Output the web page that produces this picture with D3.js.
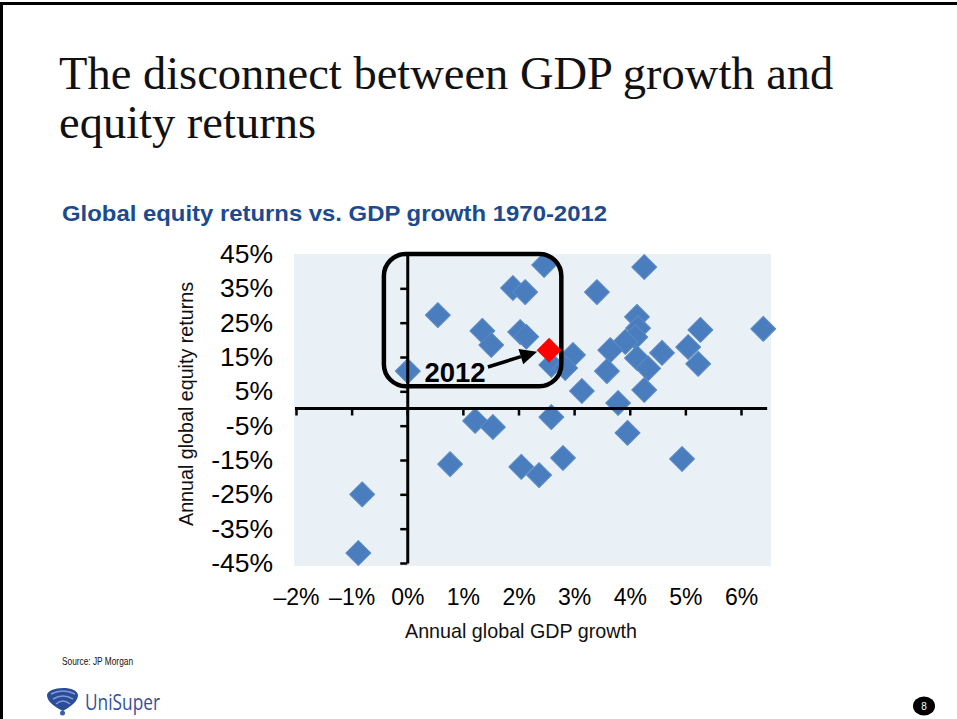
<!DOCTYPE html>
<html>
<head>
<meta charset="utf-8">
<script src="https://cdn.jsdelivr.net/npm/d3@7"></script>
<style>
  body { margin: 0; background: #fff; }
  svg { display: block; }
</style>
</head>
<body>
<div id="chart"></div>
<script>
// Valores (1970-2011), em %
const gdpGrowth = [-0.88, -0.81, 0.77, 1.22, 1.54, 0.01, 0.55, 1.35, 1.51, 1.90,
                   2.12, 2.03, 2.14, 2.46, 2.05, 2.37, 2.80, 2.59, 2.59, 2.98,
                   2.84, 3.14, 3.41, 4.26, 4.13, 4.15, 4.10, 3.92, 3.65, 3.59,
                   3.79, 4.13, 4.33, 4.26, 4.58, 3.96, 5.05, 5.27, 5.23, 4.94,
                   6.40];
const equityReturns = [-42.1, -25.0, -16.2, -3.6, -5.4, 10.9, 27.2, 22.6, 18.5, 35.1,
                       33.9, 22.3, 20.9, 41.8, -17.0, -19.4, -14.4, -2.5, 12.7, 15.6,
                       11.8, 5.1, 33.9, 41.2, 26.7, 23.4, 20.8, 19.4, 17.0, 10.9,
                       1.6, 14.7, 11.7, 5.4, 16.2, -7.1, 17.9, 22.9, 13.0, -14.7,
                       23.2];
// 2012 em destaque
const highlightGdp = [2.55];
const highlightReturn = [17.0];
const highlightLabel = ["2012"];

const xTicks = [-2, -1, 0, 1, 2, 3, 4, 5, 6];
const yTicks = [45, 35, 25, 15, 5, -5, -15, -25, -35, -45];

// Tamanho da página
const width = 957;
const height = 719;

// Área do gráfico (fundo)
const plot = { left: 294, right: 771, top: 254, bottom: 566 };

const svg = d3.select("#chart")
    .append("svg")
    .attr("width", width)
    .attr("height", height);

// Borda do slide
svg.append("line").attr("x1", 0).attr("x2", width).attr("y1", 3.5).attr("y2", 3.5)
    .attr("stroke", "#000").attr("stroke-width", 3);
svg.append("line").attr("x1", 1.5).attr("x2", 1.5).attr("y1", 2).attr("y2", height)
    .attr("stroke", "#000").attr("stroke-width", 3);

// Título
const title = svg.append("text")
    .attr("x", 60)
    .attr("font-family", "'Liberation Serif', 'Times New Roman', serif")
    .attr("font-size", 46.5)
    .attr("fill", "#111");
title.append("tspan").attr("x", 59).attr("y", 89).text("The disconnect between GDP growth and");
title.append("tspan").attr("x", 59).attr("y", 138).text("equity returns");

// Subtítulo
svg.append("text")
    .attr("x", 62)
    .attr("y", 221)
    .attr("font-family", "'Liberation Sans', Arial, sans-serif")
    .attr("font-weight", "bold")
    .attr("font-size", 22.5)
    .attr("textLength", 545)
    .attr("lengthAdjust", "spacingAndGlyphs")
    .attr("fill", "#1b4a8f")
    .text("Global equity returns vs. GDP growth 1970-2012");

// Escalas
const xScale = d3.scaleLinear().domain([-2, 6]).range([296, 741]);
const yScale = d3.scaleLinear().domain([-45, 45]).range([563, 254]);

// Fundo
svg.append("rect")
    .attr("x", plot.left)
    .attr("y", plot.top)
    .attr("width", plot.right - plot.left)
    .attr("height", plot.bottom - plot.top)
    .attr("fill", "#eaf1f6");

// Pontos (1970-2011)
const points = gdpGrowth.map((g, i) => ({ g: g, r: equityReturns[i] }));

const diamond = d3.symbol().type(d3.symbolSquare).size(310);

svg.append("g")
    .selectAll("path")
    .data(points)
    .enter()
    .append("path")
    .attr("d", diamond)
    .attr("transform", d => `translate(${xScale(d.g)},${yScale(d.r)}) rotate(45)`)
    .attr("fill", "#4a7dbd")
    .attr("stroke", "#5a8ac6")
    .attr("stroke-width", 1)
    .attr("stroke-linejoin", "round");

// Eixo X (linha em 0%)
const xAxisEnd = 6.47;
svg.append("g")
    .attr("transform", `translate(0,${yScale(0)})`)
    .call(d3.axisBottom(xScale).tickValues(xTicks).tickSize(7).tickSizeOuter(0).tickFormat(""))
    .call(g => g.select(".domain").remove())
    .call(g => g.selectAll(".tick line").attr("stroke", "#000").attr("stroke-width", 2.5));
svg.append("line")
    .attr("x1", xScale(-2) - 1)
    .attr("x2", xScale(xAxisEnd))
    .attr("y1", yScale(0))
    .attr("y2", yScale(0))
    .attr("stroke", "#000")
    .attr("stroke-width", 3);

// Eixo Y (linha em 0%)
svg.append("g")
    .attr("transform", `translate(${xScale(0)},0)`)
    .call(d3.axisLeft(yScale).tickValues(yTicks).tickSize(7).tickSizeOuter(0).tickFormat(""))
    .call(g => g.select(".domain").attr("stroke", "#000").attr("stroke-width", 3))
    .call(g => g.selectAll(".tick line").attr("stroke", "#000").attr("stroke-width", 2.5));

// Rótulos do eixo Y
svg.append("g")
    .attr("transform", "translate(273,0)")
    .call(d3.axisLeft(yScale).tickValues(yTicks).tickSize(0).tickPadding(0).tickFormat(d => d + "%"))
    .call(g => g.select(".domain").remove())
    .call(g => g.selectAll("text")
        .attr("font-family", "'Liberation Sans', Arial, sans-serif")
        .attr("font-size", 26.5)
        .attr("fill", "#000"));

// Rótulos do eixo X (traço largo nos negativos)
svg.append("g")
    .attr("transform", "translate(0,589)")
    .call(d3.axisBottom(xScale).tickValues(xTicks).tickSize(0).tickPadding(0)
        .tickFormat(d => (d < 0 ? "\u2013" + Math.abs(d) : d) + "%"))
    .call(g => g.select(".domain").remove())
    .call(g => g.selectAll("text")
        .attr("font-family", "'Liberation Sans', Arial, sans-serif")
        .attr("font-size", 23)
        .attr("fill", "#000"));

// Títulos dos eixos
svg.append("text")
    .attr("x", 521)
    .attr("y", 638)
    .attr("text-anchor", "middle")
    .attr("font-family", "'Liberation Sans', Arial, sans-serif")
    .attr("font-size", 21)
    .attr("textLength", 232)
    .attr("lengthAdjust", "spacingAndGlyphs")
    .attr("fill", "#111")
    .text("Annual global GDP growth");

svg.append("text")
    .attr("transform", "translate(193,404) rotate(-90)")
    .attr("text-anchor", "middle")
    .attr("font-family", "'Liberation Sans', Arial, sans-serif")
    .attr("font-size", 21)
    .attr("textLength", 244)
    .attr("lengthAdjust", "spacingAndGlyphs")
    .attr("fill", "#111")
    .text("Annual global equity returns");

// Caixa arredondada de destaque
const box = { x0: -0.42, x1: 2.77, y0: 6.5, y1: 45 };
svg.append("rect")
    .attr("x", xScale(box.x0))
    .attr("y", yScale(box.y1))
    .attr("width", xScale(box.x1) - xScale(box.x0))
    .attr("height", yScale(box.y0) - yScale(box.y1))
    .attr("rx", 22)
    .attr("fill", "none")
    .attr("stroke", "#000")
    .attr("stroke-width", 4.5);

// Ponto 2012 e seta
const hx = xScale(highlightGdp[0]);
const hy = yScale(highlightReturn[0]);

svg.append("g")
    .selectAll("path")
    .data(highlightGdp)
    .enter()
    .append("path")
    .attr("d", diamond)
    .attr("transform", (d, i) => `translate(${xScale(d)},${yScale(highlightReturn[i])}) rotate(45)`)
    .attr("fill", "#ff0000");

svg.append("text")
    .attr("x", xScale(0.31))
    .attr("y", yScale(7.7))
    .attr("font-family", "'Liberation Sans', Arial, sans-serif")
    .attr("font-weight", "bold")
    .attr("font-size", 27.5)
    .attr("fill", "#000")
    .text(highlightLabel[0]);

const ax0 = xScale(1.45), ay0 = yScale(12.1);
const tipX = hx - 12, tipY = hy + 1.5;
const len = Math.hypot(tipX - ax0, tipY - ay0);
const ux = (tipX - ax0) / len, uy = (tipY - ay0) / len;
const headLen = 17, headW = 8;
const bx = tipX - ux * headLen, by = tipY - uy * headLen;

svg.append("line")
    .attr("x1", ax0).attr("y1", ay0)
    .attr("x2", bx).attr("y2", by)
    .attr("stroke", "#000")
    .attr("stroke-width", 3.5);
svg.append("path")
    .attr("d", `M${tipX},${tipY}L${bx - uy * headW},${by + ux * headW}L${bx + uy * headW},${by - ux * headW}Z`)
    .attr("fill", "#000");

// Fonte
svg.append("text")
    .attr("x", 62)
    .attr("y", 665)
    .attr("font-family", "'Liberation Sans', Arial, sans-serif")
    .attr("font-size", 10.5)
    .attr("textLength", 71)
    .attr("lengthAdjust", "spacingAndGlyphs")
    .attr("fill", "#111")
    .text("Source: JP Morgan");

// Logotipo
const logo = svg.append("g");
logo.append("path")
    .attr("d", "M47,696 C46,686 79,685 78,696 C77,703 68,708 63,711 C57,708 48,703 47,696 Z")
    .attr("fill", "#2b4c98");
[[51, 694, 75], [53, 699, 73], [56, 704, 70]].forEach(a => {
    logo.append("path")
        .attr("d", `M${a[0]},${a[1]} Q63,${a[1] - 6} ${a[2]},${a[1]}`)
        .attr("fill", "none")
        .attr("stroke", "#7f9bd6")
        .attr("stroke-width", 1.6);
});
logo.append("circle").attr("cx", 62.5).attr("cy", 713).attr("r", 2.5).attr("fill", "#3d5fae");
logo.append("text")
    .attr("x", 85)
    .attr("y", 710)
    .attr("font-family", "'Open Sans', sans-serif")
    .attr("font-size", 21)
    .attr("textLength", 75)
    .attr("lengthAdjust", "spacingAndGlyphs")
    .attr("fill", "#34509a")
    .text("UniSuper");

// Número da página
svg.append("ellipse")
    .attr("cx", 924).attr("cy", 706).attr("rx", 11).attr("ry", 9.5)
    .attr("fill", "#000");
svg.append("text")
    .attr("x", 924).attr("y", 710)
    .attr("text-anchor", "middle")
    .attr("font-family", "'Liberation Sans', Arial, sans-serif")
    .attr("font-size", 10)
    .attr("fill", "#fff")
    .text("8");
</script>
</body>
</html>
